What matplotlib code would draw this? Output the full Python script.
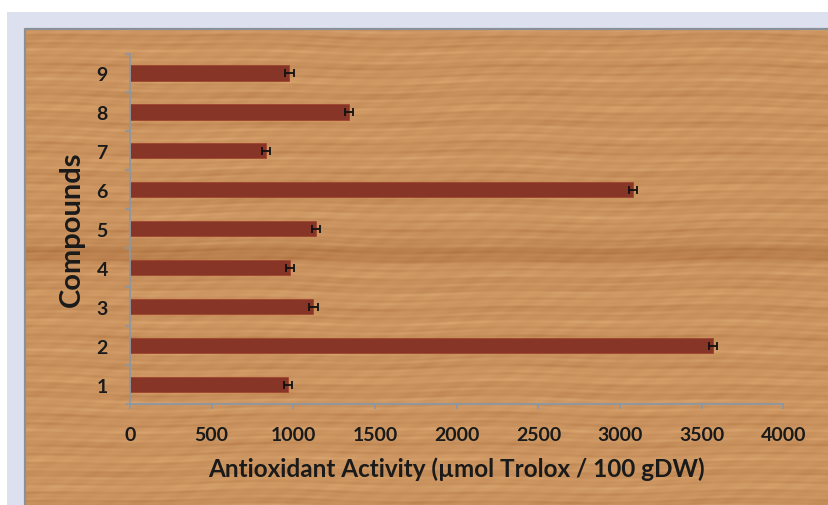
import numpy as np
import matplotlib
matplotlib.use("Agg")
import matplotlib.pyplot as plt
from matplotlib.patches import Rectangle

# ---- data ----
compounds = ["1", "2", "3", "4", "5", "6", "7", "8", "9"]
activity = [966, 3567, 1123, 980, 1140, 3077, 834, 1343, 976]
errors = [25, 25, 25, 25, 25, 25, 25, 25, 25]
xticks = [0, 500, 1000, 1500, 2000, 2500, 3000, 3500, 4000]

W, H = 829, 506
fig = plt.figure(figsize=(W / 100, H / 100), dpi=100, facecolor="white")

# lavender frame strip
fig.patches.append(Rectangle((7 / W, 0), 1 - 7 / W, (H - 13) / H,
                             transform=fig.transFigure, facecolor="#dde0ee",
                             edgecolor="none", zorder=-2))

# wood-like background panel (decorative, deterministic)
wx0, wy0 = 25 / W, 0
wax = fig.add_axes([wx0, wy0, 1 - wx0, (H - 30) / H], zorder=-1)
hh, ww = 476, 804
yy, xx = np.mgrid[0:hh, 0:ww].astype(float)
warp = 1.2 * np.sin(xx / 90.0 + yy / 40.0) + 0.8 * np.sin(xx / 37.0 + 1.3)
t = (0.45 * np.sin(2 * np.pi * (yy + warp) / 9.7)
     + 0.30 * np.sin(2 * np.pi * (yy + 1.5 * warp) / 4.3 + 0.7)
     + 0.35 * np.sin(2 * np.pi * (yy + warp) / 27.0 + 2.1)
     + 0.20 * np.sin(2 * np.pi * xx / 31.0 + yy / 3.0))
t = t * (0.5 + 0.5 * np.sin(xx / 45.0 + yy / 11.0) ** 2)
band = np.exp(-((yy - 222) / 12.0) ** 2) * 0.8
v = np.clip(0.6 + 0.22 * t - 0.35 * band, 0, 1)
light = np.array([224, 172, 118]) / 255
dark = np.array([170, 110, 60]) / 255
img = dark[None, None, :] + (light - dark)[None, None, :] * v[..., None]
wax.imshow(img, aspect="auto", interpolation="bilinear")
wax.set_axis_off()
# gray border at top/left of wood
fig.lines.append(plt.Line2D([wx0, wx0, 1], [0, (H - 30) / H, (H - 30) / H],
                            transform=fig.transFigure, color="#8a9099", lw=1.6, zorder=1))

# ---- chart ----
ax = fig.add_axes([130 / W, (H - 405) / H, (783.5 - 130) / W, (405 - 54.5) / H], zorder=2)
ax.patch.set_alpha(0)
ypos = np.arange(1, len(compounds) + 1)
ax.barh(ypos, activity, height=0.39, color="#873526", edgecolor="#a0452f", linewidth=0.6,
        xerr=errors, error_kw=dict(ecolor="#111111", elinewidth=1.3, capsize=3.2, capthick=1.3))
ax.set_xlim(0, 4000)
ax.set_ylim(0.5, 9.5)
ax.set_xticks(xticks)
ax.set_xticklabels([str(v) for v in xticks])
ax.set_yticks(ypos)
ax.set_yticklabels(compounds)
ax.set_yticks(np.arange(0.5, 10, 1), minor=True)
for s in ["top", "right"]:
    ax.spines[s].set_visible(False)
for s in ["left", "bottom"]:
    ax.spines[s].set_color("#8c97a4")
    ax.spines[s].set_linewidth(1.3)
ax.tick_params(axis="y", which="major", length=0, pad=16)
ax.tick_params(axis="y", which="minor", length=3.6, color="#8c97a4", width=1.3, direction="out")
ax.tick_params(axis="x", length=3.6, color="#8c97a4", width=1.3, pad=12, direction="out")
for lab in ax.get_xticklabels() + ax.get_yticklabels():
    lab.set_fontfamily("Lato")
    lab.set_fontweight("bold")
    lab.set_fontsize(14)
    lab.set_color("#1a1a1a")
ax.set_xlabel("Antioxidant Activity (µmol Trolox / 100 gDW)", fontfamily="Lato",
              fontweight="bold", fontsize=17.5, color="#1a1a1a", labelpad=10)
ax.set_ylabel("Compounds", fontfamily="Lato", fontweight="bold", fontsize=21,
              color="#1a1a1a", labelpad=8.5)

fig.savefig("out.png", dpi=100, facecolor="white")
